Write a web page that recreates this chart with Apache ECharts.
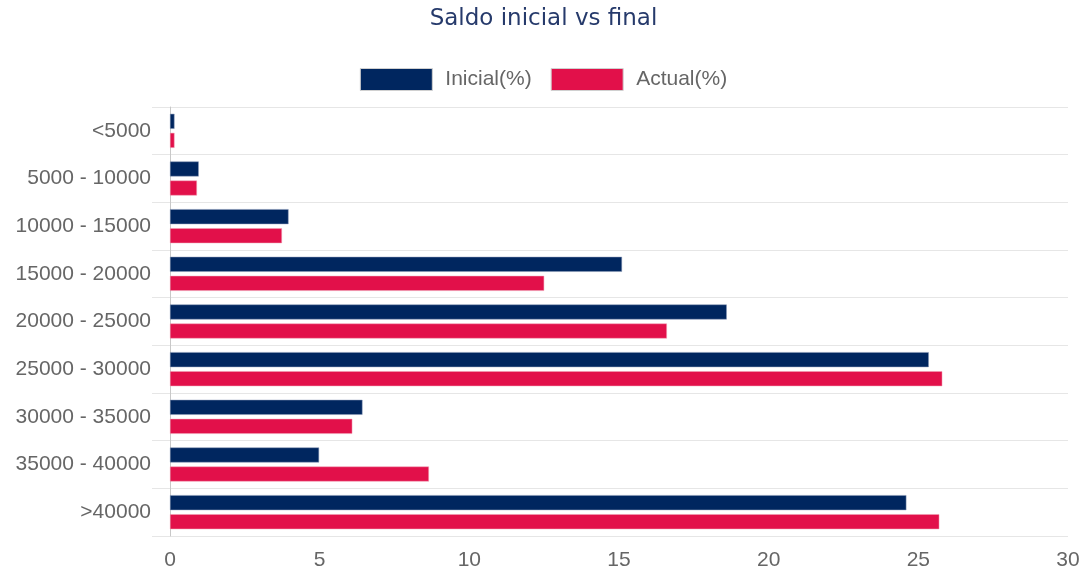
<!DOCTYPE html>
<html>
<head>
<meta charset="utf-8">
<script src="https://cdn.jsdelivr.net/npm/echarts@6/dist/echarts.min.js"></script>
<style>
  html, body { margin: 0; padding: 0; background: #fff; }
  #chart { width: 1087px; height: 578px; }
</style>
</head>
<body>
<div id="chart"></div>
<script>
var categories = ['<5000', '5000 - 10000', '10000 - 15000', '15000 - 20000', '20000 - 25000',
                  '25000 - 30000', '30000 - 35000', '35000 - 40000', '>40000'];
var inicial = [0.15, 0.96, 3.96, 15.1, 18.6, 25.35, 6.43, 4.98, 24.6];
var actual = [0.15, 0.9, 3.74, 12.5, 16.6, 25.8, 6.09, 8.65, 25.7];

var myChart = echarts.init(document.getElementById('chart'));
var option = {
    title: {
        text: 'Saldo inicial vs final',
        left: 'center',
        top: 3,
        textStyle: {
            fontFamily: 'DejaVu Sans',
            fontWeight: 'normal',
            fontSize: 23,
            color: '#263a6b'
        }
    },
    legend: {
        top: 63,
        left: 'center',
        icon: 'rect',
        itemWidth: 72,
        itemHeight: 22,
        itemGap: 19,
        textStyle: {
            fontFamily: 'Liberation Sans',
            fontSize: 21,
            color: '#666',
            padding: [0, 0, 0, 8]
        },
        data: [
            { name: 'Inicial(%)', itemStyle: { borderColor: '#d0d0d0', borderWidth: 1 } },
            { name: 'Actual(%)', itemStyle: { borderColor: '#d0d0d0', borderWidth: 1 } }
        ]
    },
    grid: {
        left: 170,
        right: 19,
        top: 107,
        bottom: 42,
        containLabel: false
    },
    xAxis: {
        type: 'value',
        min: 0,
        max: 30,
        interval: 5,
        axisLine: { show: false },
        axisTick: { show: false },
        splitLine: { show: false },
        axisLabel: {
            fontFamily: 'Liberation Sans',
            fontSize: 21,
            color: '#666',
            margin: 14
        }
    },
    yAxis: {
        type: 'category',
        inverse: true,
        data: categories,
        axisLine: { show: true, lineStyle: { color: '#c8c8c8' } },
        axisTick: { show: true, length: 18, lineStyle: { color: '#e6e6e6' } },
        splitLine: { show: true, lineStyle: { color: '#e6e6e6' } },
        axisLabel: {
            fontFamily: 'Liberation Sans',
            fontSize: 21,
            color: '#666',
            margin: 19
        }
    },
    series: [
        {
            name: 'Inicial(%)',
            type: 'bar',
            data: inicial,
            barWidth: 15,
            barGap: '27%',
            itemStyle: { color: '#00265f', borderColor: '#8a9ab8', borderWidth: 0.5 }
        },
        {
            name: 'Actual(%)',
            type: 'bar',
            data: actual,
            barWidth: 15,
            barGap: '27%',
            itemStyle: { color: '#e2104a', borderColor: '#f0a0b5', borderWidth: 0.5 }
        }
    ]
};
myChart.setOption(option);
</script>
</body>
</html>
